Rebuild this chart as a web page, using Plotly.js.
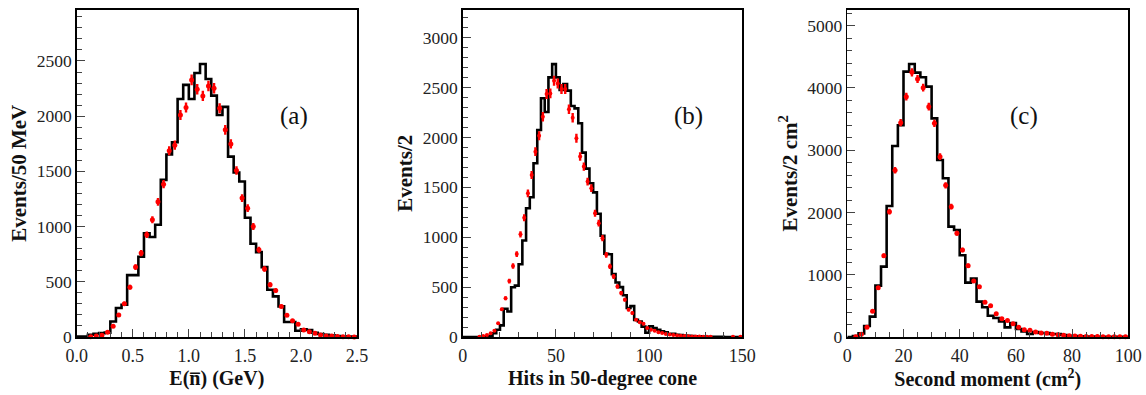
<!DOCTYPE html>
<html><head><meta charset="utf-8">
<script src="https://cdn.plot.ly/plotly-3.0.1.min.js"></script>
<style>html,body{margin:0;padding:0;background:#fff}#chart{width:1146px;height:395px}</style>
</head><body><div id="chart"></div>
<script>
// ---------- Panel (a): E(nbar), 50 MeV bins ----------
const aBinStart = 0, aBinWidth = 0.05;
const aMC = [5,5,20,30,35,40,140,262,292,560,
             560,727,940,905,1016,1423,1653,1764,2156,2283,
             2156,2391,2473,2337,2186,2011,2084,1634,1490,1408,
             1080,845,769,633,428,368,277,136,136,57,
             69,63,39,27,21,15,9,6,3,3];
const aData = [null,null,3,8,15,42,97,200,302,451,
               633,760,926,1062,1224,1384,1686,1737,2011,2078,
               2328,2244,2183,2274,2253,2072,1876,1749,1508,1258,
               1167,1001,790,615,473,422,277,196,148,115,
               63,48,33,18,10,8,5,3,2,1];
// ---------- Panel (b): hits in 50-degree cone, bins of 2 ----------
const bBinStart = 0, bBinWidth = 2;
const bMC = [0,0,0,0,0,0,2,10,38,72,
             117,283,256,499,515,730,967,1290,1401,1741,
             2075,2394,2256,2603,2735,2603,2476,2535,2470,2316,
             2292,2142,1848,1688,1542,1450,1236,1015,835,830,
             630,546,500,419,290,310,172,156,104,42,
             108,90,73,57,47,30,33,23,20,15,
             12,10,8,6,5,3,2,2,1,1,
             0,0,0,0,0];
const bData = [null,null,null,null,3,10,20,37,63,137,
               277,388,561,712,832,1029,1196,1440,1624,1858,
               2018,2208,2436,2442,2569,2542,2486,2486,2282,2198,
               1992,1809,1708,1558,1492,1241,1141,991,824,707,
               607,507,440,374,274,240,174,147,133,90,
               73,63,47,40,30,25,20,16,12,10,
               8,6,5,4,3,3,2,null,null,null,
               null,null,2,null,3];
// ---------- Panel (c): second moment, bins of 2 cm^2 ----------
const cBinStart = 0, cBinWidth = 2;
const cMC = [0,16,59,177,327,825,1130,2104,3068,3400,
             4262,4385,4246,4171,4021,3512,2843,2549,1772,1719,
             1312,873,937,568,477,342,305,251,155,225,
             128,91,48,80,64,64,48,48,32,21,
             16,10,8,6,5,4,3,2,2,1];
const cData = [null,5,43,155,412,792,1306,2013,2677,3443,
               3860,4251,4144,4005,3700,3432,2897,2436,2093,1665,
               1397,1146,899,808,560,503,374,294,267,214,
               155,118,107,80,64,59,43,37,27,21,
               16,13,10,8,7,6,5,4,3,3];

// ---------- text ----------
const xTitles = ['<b>E(n\u0305) (GeV)</b>', '<b>Hits in 50-degree cone</b>', '<b>Second moment (cm<sup>2</sup>)</b>'];
const yTitles = ['<b>Events/50 MeV</b>', '<b>Events/2</b>', '<b>Events/2 cm<sup>2</sup></b>'];
const panelLabels = ['(a)', '(b)', '(c)'];

function stepTrace(start, w, vals, xa, ya) {
  const x = [], y = [];
  for (let i = 0; i < vals.length; i++) { x.push(start + i * w); y.push(vals[i]); }
  x.push(start + vals.length * w); y.push(vals[vals.length - 1]);
  return {type:'scatter', mode:'lines', x, y, xaxis:xa, yaxis:ya,
          line:{shape:'hv', color:'#000', width:2.6}, hoverinfo:'skip', showlegend:false};
}
function dataTrace(start, w, vals, xa, ya, size) {
  const x = vals.map((v, i) => start + (i + 0.5) * w);
  return {type:'scatter', mode:'markers', x, y:vals, xaxis:xa, yaxis:ya, cliponaxis:false,
          marker:{color:'#ff0000', size:size, line:{width:0}},
          error_y:{type:'data', array: vals.map(v => v == null ? 0 : Math.sqrt(v)), visible:true,
                   color:'#ff0000', thickness:2.4, width:0},
          showlegend:false, hoverinfo:'x+y'};
}

const traces = [
  stepTrace(aBinStart, aBinWidth, aMC, 'x', 'y'),
  dataTrace(aBinStart, aBinWidth, aData, 'x', 'y', 5),
  stepTrace(bBinStart, bBinWidth, bMC, 'x2', 'y2'),
  dataTrace(bBinStart, bBinWidth, bData, 'x2', 'y2', 4),
  stepTrace(cBinStart, cBinWidth, cMC, 'x3', 'y3'),
  dataTrace(cBinStart, cBinWidth, cData, 'x3', 'y3', 5)
];

const serif = "'Liberation Serif'";
const W = 1146, H = 395;
const yDom = [(H - 337) / H, (H - 9.5) / H];
const xDoms = [[76.7 / W, 357 / W], [462.7 / W, 742.3 / W], [847.3 / W, 1128.3 / W]];

function xAxis(i, range, dtick, minor, fmt) {
  return {domain:xDoms[i], range:range, anchor: i === 0 ? 'y' : 'y' + (i + 1),
    tick0:0, dtick:dtick, tickformat:fmt, ticks:'inside', ticklen:8, tickwidth:1, tickcolor:'#444',
    minor:{dtick:minor, tick0:0, ticks:'inside', ticklen:5, tickwidth:1, tickcolor:'#444'},
    showline:true, linecolor:'#000', linewidth:1.5, mirror:true, showgrid:false, zeroline:false,
    tickfont:{family:serif, size:18, color:'#222'}, ticklabelstandoff:2,
    title:{text:xTitles[i], font:{family:serif, size:20, color:'#111'}, standoff:6}};
}
function yAxis(i, range, dtick, minor) {
  return {domain:yDom, range:range, anchor: i === 0 ? 'x' : 'x' + (i + 1),
    tick0:0, dtick:dtick, ticks:'inside', ticklen:8, tickwidth:1, tickcolor:'#444',
    minor:{dtick:minor, tick0:0, ticks:'inside', ticklen:5, tickwidth:1, tickcolor:'#444'},
    showline:true, linecolor:'#000', linewidth:1.5, mirror:true, showgrid:false, zeroline:false,
    tickfont:{family:serif, size:17.5, color:'#222'},
    title:{text:yTitles[i], font:{family:serif, size:21, color:'#111'}, standoff:4}};
}

const layout = {
  width:W, height:H, margin:{l:0, r:0, t:0, b:0}, paper_bgcolor:'#fff', plot_bgcolor:'#fff',
  showlegend:false,
  xaxis: xAxis(0, [0, 2.5], 0.5, 0.1, '.1f'),
  yaxis: yAxis(0, [0, 2966], 500, 100),
  xaxis2: xAxis(1, [0, 150], 50, 10, 'd'),
  yaxis2: yAxis(1, [0, 3283], 500, 100),
  xaxis3: xAxis(2, [0, 100], 20, 5, 'd'),
  yaxis3: yAxis(2, [0, 5260], 1000, 200),
  annotations: [
    {text:panelLabels[0], x:278 / W, y:(H - 100) / H, xref:'paper', yref:'paper', showarrow:false, font:{family:serif, size:25, color:'#111'}},
    {text:panelLabels[1], x:688 / W, y:(H - 100) / H, xref:'paper', yref:'paper', showarrow:false, font:{family:serif, size:25, color:'#111'}},
    {text:panelLabels[2], x:1040 / W, y:(H - 100) / H, xref:'paper', yref:'paper', showarrow:false, font:{family:serif, size:25, color:'#111'}}
  ]
};

Plotly.newPlot('chart', traces, layout, {displayModeBar:false, staticPlot:true});
</script></body></html>
